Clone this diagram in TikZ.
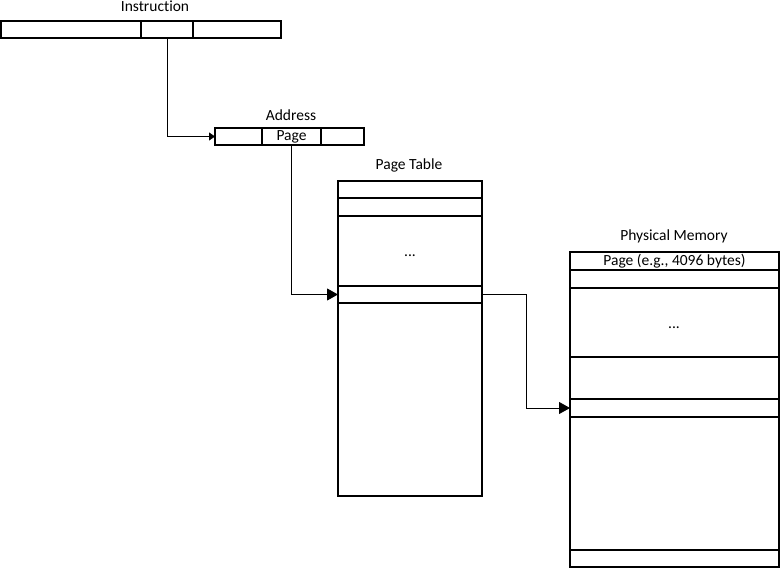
\documentclass[tikz,border=0pt]{standalone}
\usepackage{fontspec}
\setmainfont{Carlito}[Ligatures=NoCommon]
\usetikzlibrary{arrows.meta}
\begin{document}
\begin{tikzpicture}[x=1pt,y=-1pt,
  cell/.style={draw=black,line width=1.1pt,rectangle,inner sep=0pt,outer sep=0pt,anchor=north west,font=\fontsize{15.5}{16}\selectfont},
  lbl/.style={font=\fontsize{15.5}{16}\selectfont,inner sep=0pt},
  dots/.style={font=\fontsize{15.5}{16}\selectfont,inner sep=0pt},
  conn/.style={draw=black,line width=0.9pt},
  bigtip/.style={-{Triangle[length=11pt,width=12pt]}},
  smalltip/.style={-{Triangle[length=6pt,width=8pt]}}]
\useasboundingbox[fill=white] (0,0) rectangle (781,569);
% Instruction
\node[lbl] (instrlbl) at (155,6) {Instruction};
\node[cell,minimum width=140pt,minimum height=17pt] (i1) at (1,21) {};
\node[cell,minimum width=52pt,minimum height=17pt] (i2) at (141,21) {};
\node[cell,minimum width=88pt,minimum height=17pt] (i3) at (193,21) {};
% Address
\node[lbl] (addrlbl) at (291,115) {Address};
\node[cell,minimum width=47pt,minimum height=17pt] (a1) at (215,128) {};
\node[cell,minimum width=59pt,minimum height=17pt] (a2) at (262,128) {Page};
\node[cell,minimum width=43pt,minimum height=17pt] (a3) at (321,128) {};
% Page table
\node[lbl] (ptlbl) at (409,165) {Page Table};
\node[cell,minimum width=144pt,minimum height=17pt] (p1) at (338,181) {};
\node[cell,minimum width=144pt,minimum height=18pt] (p2) at (338,198) {};
\node[cell,minimum width=144pt,minimum height=70pt] (p3) at (338,216) {};
\node[dots,anchor=base] (p3dots) at (410,256) {...};
\node[cell,minimum width=144pt,minimum height=17pt] (p4) at (338,286) {};
\node[cell,minimum width=144pt,minimum height=193pt] (p5) at (338,303) {};
% Physical memory
\node[lbl] (pmlbl) at (674,236) {Physical Memory};
\node[cell,minimum width=209pt,minimum height=18pt] (m1) at (570,252) {Page (e.g., 4096 bytes)};
\node[cell,minimum width=209pt,minimum height=18pt] (m2) at (570,270) {};
\node[cell,minimum width=209pt,minimum height=69pt] (m3) at (570,288) {};
\node[dots,anchor=base] (m3dots) at (674,328) {...};
\node[cell,minimum width=209pt,minimum height=42pt] (m4) at (570,357) {};
\node[cell,minimum width=209pt,minimum height=18pt] (m5) at (570,399) {};
\node[cell,minimum width=209pt,minimum height=133pt] (m6) at (570,417) {};
\node[cell,minimum width=209pt,minimum height=17pt] (m7) at (570,550) {};
% connectors
\draw[conn,smalltip] (i2.south) |- (a1.west);
\draw[conn,bigtip] (a2.south) |- (p4.west);
\coordinate (bend) at (526,0);
\draw[conn,bigtip] (p4.east) -| (bend |- m5.west) -- (m5.west);
\end{tikzpicture}
\end{document}
